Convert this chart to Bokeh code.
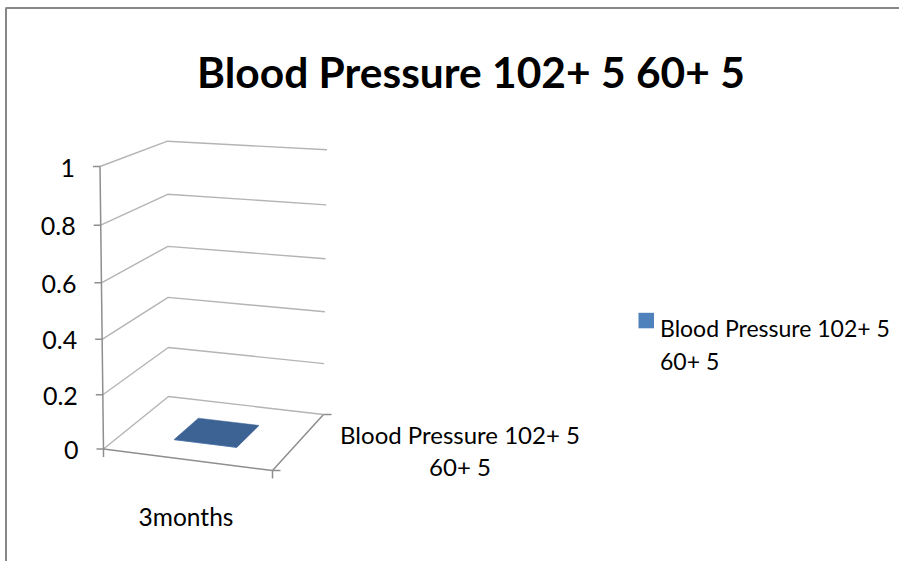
import textwrap
from bokeh.plotting import figure
from bokeh.models import Range1d
from bokeh.core.properties import value
from bokeh.embed import file_html
from bokeh.resources import INLINE

# ---------------- data ----------------
categories = ["3months"]
series_names = ["Blood Pressure 102+ 5 60+ 5"]
series_values = [0]
y_ticks = [0, 0.2, 0.4, 0.6, 0.8, 1.0]
y_tick_labels = ["0", "0.2", "0.4", "0.6", "0.8", "1"]
title_text = "Blood Pressure 102+ 5 60+ 5"

# ---------------- layout / projection ----------------
W, H = 899, 561
OX, OY = 0, 0
FONT = "Lato"

# screen corners of the 3-D plot box (pixels)
FLB = (103.0, 448.5); FRB = (272.0, 470.0); BLB = (168.0, 396.0); BRB = (323.0, 414.0)
FLT = (99.5, 166.0);  FRT = (290.0, 182.0); BLT = (167.0, 140.7); BRT = (326.5, 149.3)
YMAX = y_ticks[-1]
PERSP = 0.052


def warp(v):
    t = v / YMAX
    return t * (1 + PERSP * t) / (1 + PERSP)


def bil(c00, c10, c01, c11, x, z):
    return ((1 - x) * (1 - z) * c00[0] + x * (1 - z) * c10[0] + (1 - x) * z * c01[0] + x * z * c11[0],
            (1 - x) * (1 - z) * c00[1] + x * (1 - z) * c10[1] + (1 - x) * z * c01[1] + x * z * c11[1])


def P(x, z, v):
    bx, by = bil(FLB, FRB, BLB, BRB, x, z)
    tx, ty = bil(FLT, FRT, BLT, BRT, x, z)
    w = warp(v)
    return (bx + (tx - bx) * w - OX, by + (ty - by) * w - OY)


p = figure(width=W, height=H, x_range=Range1d(0, W), y_range=Range1d(H, 0),
           output_backend="svg", toolbar_location=None, min_border=0,
           x_axis_type=None, y_axis_type=None)
p.grid.visible = False
p.outline_line_color = None
p.background_fill_color = "white"
p.border_fill_color = "white"

# outer chart border (extends beyond the visible page)
p.quad(left=[5.5 - OX], right=[W + 40], top=[7.5 - OY], bottom=[H + 40],
       fill_color=None, line_color="#878787", line_width=2)

GRID = "#B4B4B4"
AXIS = "#8E8E8E"

# gridlines on left and back walls
gx, gy = [], []
for v in y_ticks:
    pts = [P(0, 0, v), P(0, 1, v), P(1, 1, v)]
    gx.append([q[0] for q in pts])
    gy.append([q[1] for q in pts])
p.multi_line(gx, gy, line_color=GRID, line_width=1.4)

# axis lines
a0, a1 = P(0, 0, 0), P(0, 0, YMAX)
p.line([a0[0], a1[0]], [a0[1], a1[1]], line_color=AXIS, line_width=1.5)
c0, c1 = P(0, 0, 0), P(1, 0, 0)
p.line([c0[0], c1[0]], [c0[1], c1[1]], line_color=AXIS, line_width=1.5)
d0, d1 = P(1, 0, 0), P(1, 1, 0)
p.line([d0[0], d1[0]], [d0[1], d1[1]], line_color=AXIS, line_width=1.5)

# value-axis ticks and labels
tk = [P(0, 0, v) for v in y_ticks]
p.segment(x0=[t[0] - 7 for t in tk], y0=[t[1] for t in tk],
          x1=[t[0] for t in tk], y1=[t[1] for t in tk], line_color=AXIS, line_width=1.5)
p.text(x=[t[0] - 25 for t in tk], y=[t[1] + 1 for t in tk], text=y_tick_labels,
       text_font=value(FONT), text_font_size="25px", text_align="right",
       text_baseline="middle", text_color="black")

# category-axis ticks (downwards) and label
n = len(categories)
ct = [P(i / n, 0, 0) for i in range(n + 1)]
p.segment(x0=[t[0] for t in ct], y0=[t[1] for t in ct],
          x1=[t[0] for t in ct], y1=[t[1] + 8 for t in ct], line_color=AXIS, line_width=1.5)
cl = [P((i + 0.5) / n, 0, 0) for i in range(n)]
p.text(x=[c[0] - 2 for c in cl], y=[c[1] + 57 for c in cl], text=categories,
       text_font=value(FONT), text_font_size="24.5px", text_align="center",
       text_baseline="alphabetic", text_color="black")

# depth-axis ticks (rightwards) and label
m = len(series_names)
dt = [P(1, j / m, 0) for j in range(m + 1)]
p.segment(x0=[t[0] for t in dt], y0=[t[1] for t in dt],
          x1=[t[0] + 8 for t in dt], y1=[t[1] for t in dt], line_color=AXIS, line_width=1.5)
for j, name in enumerate(series_names):
    dc = P(1, (j + 0.5) / m, 0)
    lines = textwrap.wrap(name, 21)
    p.text(x=[dc[0] + 162] * len(lines), y=[dc[1] - 8 + 32 * k for k in range(len(lines))],
           text=lines, text_font=value(FONT), text_font_size="24px", text_align="center",
           text_baseline="alphabetic", text_color="black")

# bars (3-D columns)
BAR_W = 0.38
BAR_D = 0.40
for i, val in enumerate(series_values):
    xa = (i + 0.5 - BAR_W / 2) / n
    xb = (i + 0.5 + BAR_W / 2) / n
    za, zb = 0.5 - BAR_D / 2, 0.5 + BAR_D / 2
    side = [P(xb, za, 0), P(xb, zb, 0), P(xb, zb, val), P(xb, za, val)]
    front = [P(xa, za, 0), P(xb, za, 0), P(xb, za, val), P(xa, za, val)]
    top = [P(xa, za, val), P(xb, za, val), P(xb, zb, val), P(xa, zb, val)]
    for face, col in ((side, "#3A5F8C"), (front, "#4F81BD"), (top, "#3D6394")):
        p.patch([q[0] for q in face], [q[1] for q in face], fill_color=col,
                line_color=col, line_width=0.5)

# title
p.text(x=[470.5 - OX], y=[70.7 - OY], text=[title_text], text_font=value(FONT),
       text_font_size="42.5px", text_font_style="bold", text_align="center",
       text_baseline="alphabetic", text_color="black")

# legend
LX, LY = 638 - OX, 312.3 - OY
p.quad(left=[LX], right=[LX + 15.5], top=[LY], bottom=[LY + 15.5],
       fill_color="#4F81BD", line_color=None)
leg_lines = textwrap.wrap(series_names[0], 21)
p.text(x=[LX + 21.5] * len(leg_lines), y=[LY + 15 + 33.5 * k for k in range(len(leg_lines))],
       text=leg_lines, text_font=value(FONT), text_font_size="23px", text_align="left",
       text_baseline="alphabetic", text_color="black")

open("out.html", "w").write(file_html(p, INLINE))
